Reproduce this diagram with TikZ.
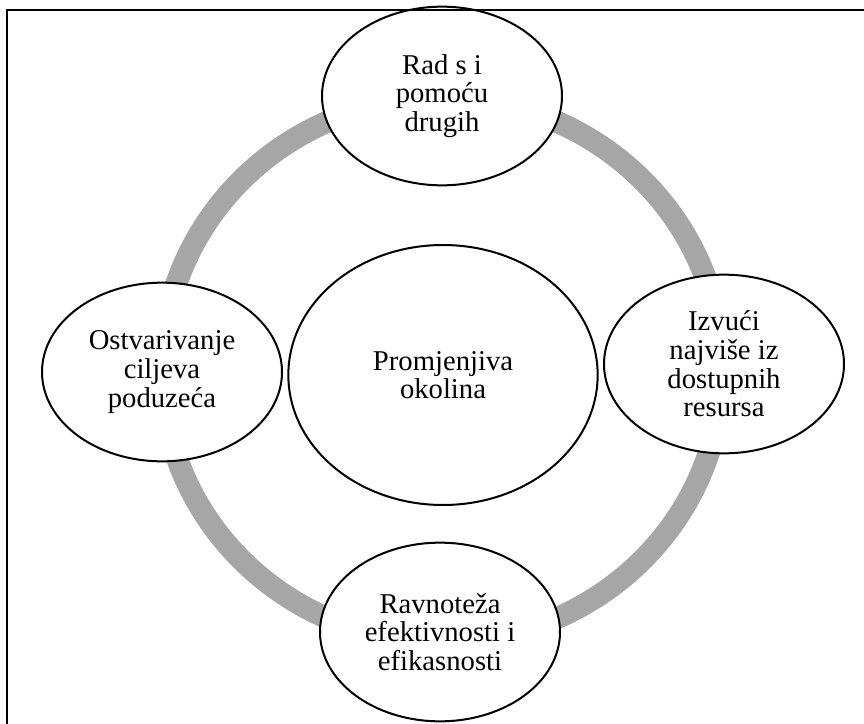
\documentclass[tikz,border=0pt]{standalone}
\usepackage{fontspec}
\setmainfont{Liberation Serif}
\usepackage{xcolor}
\usetikzlibrary{shapes.geometric}
\definecolor{ringgray}{HTML}{A6A6A6}

\begin{document}
\begin{tikzpicture}[x=0.75pt, y=-0.75pt,
    krug/.style={draw, line width=1.5pt, fill=white, ellipse, inner sep=0pt,
                 minimum width=180pt, minimum height=134pt, align=center,
                 font=\fontsize{21.5}{21.5}\selectfont},
    centar/.style={krug, minimum width=232pt, minimum height=195pt}]
    \useasboundingbox (0,0) rectangle (864,724);
    % prsten iza elipsa
    \draw[line width=16.5pt, ringgray] (442,370) ellipse [x radius=210pt, y radius=204pt];

    \node[centar] (okolina) at (443,375) {Promjenjiva\\okolina};
    \node[krug] (rad) at (442,96) {Rad s i\\pomoću\\drugih};
    \node[krug] (resursi) at (724,364) {Izvući\\najviše iz\\dostupnih\\resursa};
    \node[krug] (ravnoteza) at (440,632) {Ravnoteža\\efektivnosti i\\efikasnosti};
    \node[krug] (ciljevi) at (162,372) {Ostvarivanje\\ciljeva\\poduzeća};

    % okvir
    \draw[line width=2pt] (7,724) -- (7,10) -- (864,10);
\end{tikzpicture}
\end{document}
